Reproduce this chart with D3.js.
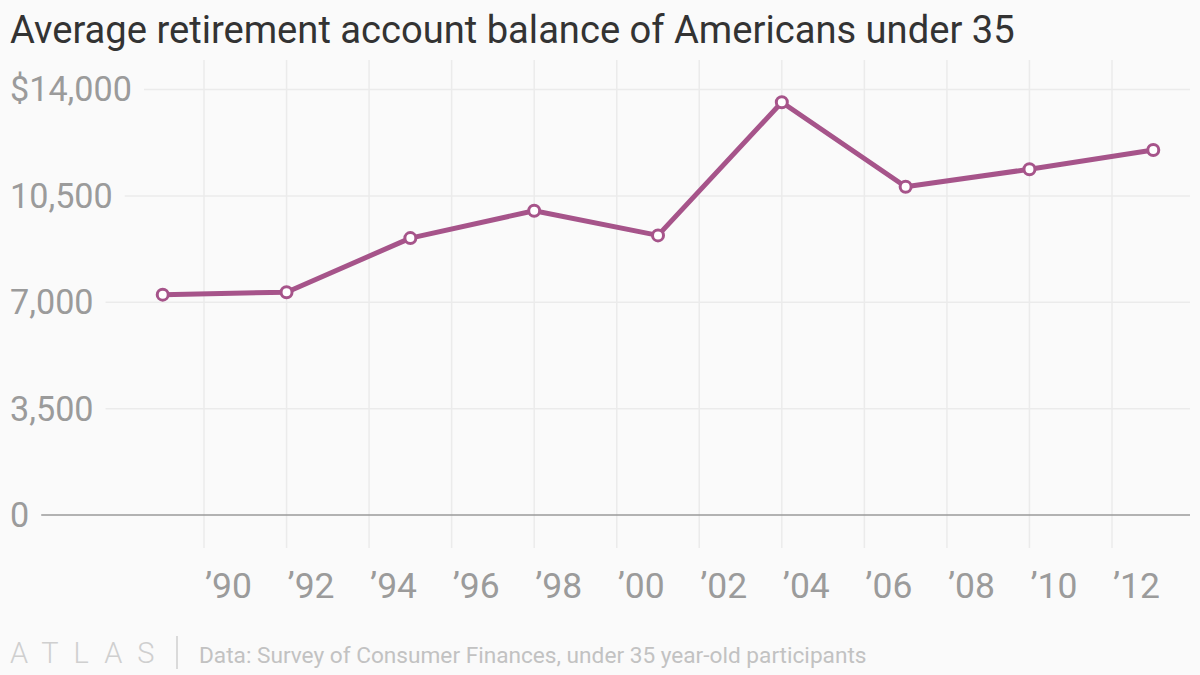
<!DOCTYPE html>
<html>
<head>
<meta charset="utf-8">
<script src="https://cdn.jsdelivr.net/npm/d3@7"></script>
<style>
   html, body { margin: 0; padding: 0; background: #fafafa; }
   svg { display: block; font-family: Roboto, "Noto Sans", sans-serif; }
</style>
</head>
<body>
<svg id="chart" width="1200" height="675"></svg>
<script>
// survey years and average balance (USD)
const years = [1989, 1992, 1995, 1998, 2001, 2004, 2007, 2010, 2013];
const balances = [7250, 7330, 9110, 10010, 9200, 13580, 10800, 11375, 12010];
const yTicks = [0, 3500, 7000, 10500, 14000];
const xTicks = [1990, 1992, 1994, 1996, 1998, 2000, 2002, 2004, 2006, 2008, 2010, 2012];

const title = "Average retirement account balance of Americans under 35";
const source = "Data: Survey of Consumer Finances, under 35 year-old participants";

const svg = d3.select("#chart");

const x = d3.scaleLinear().domain([1990, 2012]).range([204, 1112]);
const y = d3.scaleLinear().domain([0, 14000]).range([515, 89.5]);

// scale a text's font-size so it fills a target width
function fitWidth(sel, target) {
   const size = parseFloat(sel.attr("font-size"));
   const len = sel.node().getComputedTextLength();
   sel.attr("font-size", size * target / len);
   return size * target / len;
}

svg.append("rect")
   .attr("width", 1200).attr("height", 675)
   .attr("fill", "#fafafa");

const titleText = svg.append("text")
   .attr("x", 10).attr("y", 43)
   .attr("font-size", 34)
   .attr("fill", "#333")
   .text(title);
fitWidth(titleText, 1005);

// vertical grid
svg.append("g")
   .selectAll("line")
   .data(xTicks)
   .join("line")
   .attr("x1", d => x(d)).attr("x2", d => x(d))
   .attr("y1", 60).attr("y2", 548)
   .attr("stroke", "#ebebeb")
   .attr("stroke-width", 1.5);

// y labels first, so grid lines can start after them
const yLab = svg.append("g")
   .selectAll("text")
   .data(yTicks)
   .join("text")
   .attr("x", 10)
   .attr("y", d => y(d))
   .attr("dy", "0.35em")
   .attr("font-size", 34)
   .attr("fill", "#9b9b9b")
   .text(d => (d === 14000 ? "$" : "") + d3.format(",")(d));

const topLab = yLab.filter(d => d === 14000);
const ySize = fitWidth(topLab, 122);
yLab.attr("font-size", ySize);

svg.append("g")
   .selectAll("line")
   .data(yTicks)
   .join("line")
   .attr("x1", (d, i) => 10 + yLab.nodes()[i].getComputedTextLength() + 12)
   .attr("x2", 1190)
   .attr("y1", d => y(d)).attr("y2", d => y(d))
   .attr("stroke", d => d === 0 ? "#9a9a9a" : "#ebebeb")
   .attr("stroke-width", 1.5);

// x labels
const xLab = svg.append("g")
   .selectAll("text")
   .data(xTicks)
   .join("text")
   .attr("x", d => x(d) + 1)
   .attr("y", 598)
   .attr("font-size", 34)
   .attr("fill", "#9b9b9b")
   .text(d => "\u2019" + String(d).slice(2));
const xSize = fitWidth(xLab.filter(d => d === 1990), 47);
xLab.attr("font-size", xSize);

// the line
const line = d3.line()
   .x((d, i) => x(years[i]))
   .y(d => y(d));

svg.append("path")
   .datum(balances)
   .attr("d", line)
   .attr("fill", "none")
   .attr("stroke", "#a6548a")
   .attr("stroke-width", 5)
   .attr("stroke-linejoin", "round");

svg.append("g")
   .selectAll("circle")
   .data(balances)
   .join("circle")
   .attr("cx", (d, i) => x(years[i]))
   .attr("cy", d => y(d))
   .attr("r", 5.5)
   .attr("fill", "#fff")
   .attr("stroke", "#a6548a")
   .attr("stroke-width", 3);

// footer
const logo = svg.append("text")
   .attr("x", 10).attr("y", 663)
   .attr("font-size", 29)
   .attr("font-weight", 300)
   .attr("letter-spacing", 15)
   .attr("fill", "#cfcfcf")
   .text("ATLAS");

svg.append("line")
   .attr("x1", 177).attr("x2", 177)
   .attr("y1", 636).attr("y2", 669)
   .attr("stroke", "#cfcfcf")
   .attr("stroke-width", 1.5);

const src = svg.append("text")
   .attr("x", 199).attr("y", 663)
   .attr("font-size", 22)
   .attr("fill", "#c2c2c2")
   .text(source);
fitWidth(src, 668);
</script>
</body>
</html>
